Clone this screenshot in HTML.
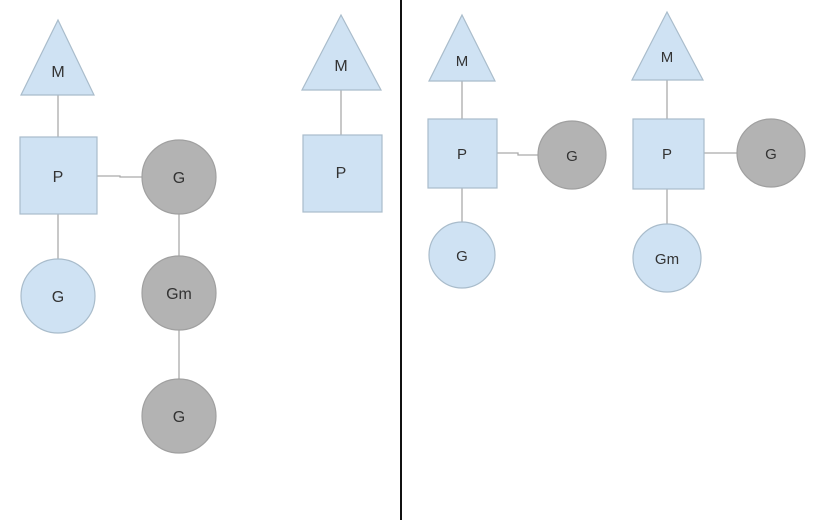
<!DOCTYPE html>
<html><head><meta charset="utf-8"><style>body{margin:0;background:#fff}svg{display:block}</style></head>
<body>
<svg width="830" height="520" viewBox="0 0 830 520" xmlns="http://www.w3.org/2000/svg" font-family="Liberation Sans, sans-serif" font-size="16" text-anchor="middle">
<g stroke="#aaa" stroke-width="1.3" fill="none">
<line x1="58" y1="95" x2="58" y2="137"/><line x1="58" y1="214" x2="58" y2="259"/>
<polyline points="97,176 120,176 120,177 142,177"/>
<line x1="179" y1="214" x2="179" y2="256"/><line x1="179" y1="330" x2="179" y2="379"/>
<line x1="341" y1="90" x2="341" y2="135"/>
<line x1="462" y1="81" x2="462" y2="119"/><line x1="462" y1="188" x2="462" y2="222"/>
<polyline points="497,153 518,153 518,155 538,155"/>
<line x1="667" y1="80" x2="667" y2="119"/><line x1="667" y1="189" x2="667" y2="224"/>
<polyline points="704,153 737,153"/>
</g>
<g fill="#cfe2f3" stroke="#a9bccb" stroke-width="1.2">
<polygon points="58,20 94,95 21,95"/>
<rect x="20" y="137" width="77" height="77"/>
<circle cx="58" cy="296" r="37"/>
<polygon points="341,15 381,90 302,90"/>
<rect x="303" y="135" width="79" height="77"/>
<polygon points="462,15 495,81 429,81"/>
<rect x="428" y="119" width="69" height="69"/>
<circle cx="462" cy="255" r="33"/>
<polygon points="667,12 703,80 632,80"/>
<rect x="633" y="119" width="71" height="70"/>
<circle cx="667" cy="258" r="34"/>
</g>
<g fill="#b3b3b3" stroke="#a0a0a0" stroke-width="1.2">
<circle cx="179" cy="177" r="37"/>
<circle cx="179" cy="293" r="37"/>
<circle cx="179" cy="416" r="37"/>
<circle cx="572" cy="155" r="34"/>
<circle cx="771" cy="153" r="34"/>
</g>
<line x1="401" y1="0" x2="401" y2="520" stroke="#111" stroke-width="2"/>
<g fill="#333">
<text x="58" y="77">M</text><text x="58" y="182">P</text><text x="58" y="302">G</text>
<text x="179" y="183">G</text><text x="179" y="299">Gm</text><text x="179" y="422">G</text>
<text x="341" y="71">M</text><text x="341" y="178">P</text>
<text x="462" y="66" font-size="15">M</text><text x="462" y="159" font-size="15">P</text><text x="462" y="261" font-size="15">G</text>
<text x="572" y="161" font-size="15">G</text>
<text x="667" y="62" font-size="15">M</text><text x="667" y="159" font-size="15">P</text><text x="667" y="264" font-size="15">Gm</text>
<text x="771" y="159" font-size="15">G</text>
</g>
</svg>
</body></html>
